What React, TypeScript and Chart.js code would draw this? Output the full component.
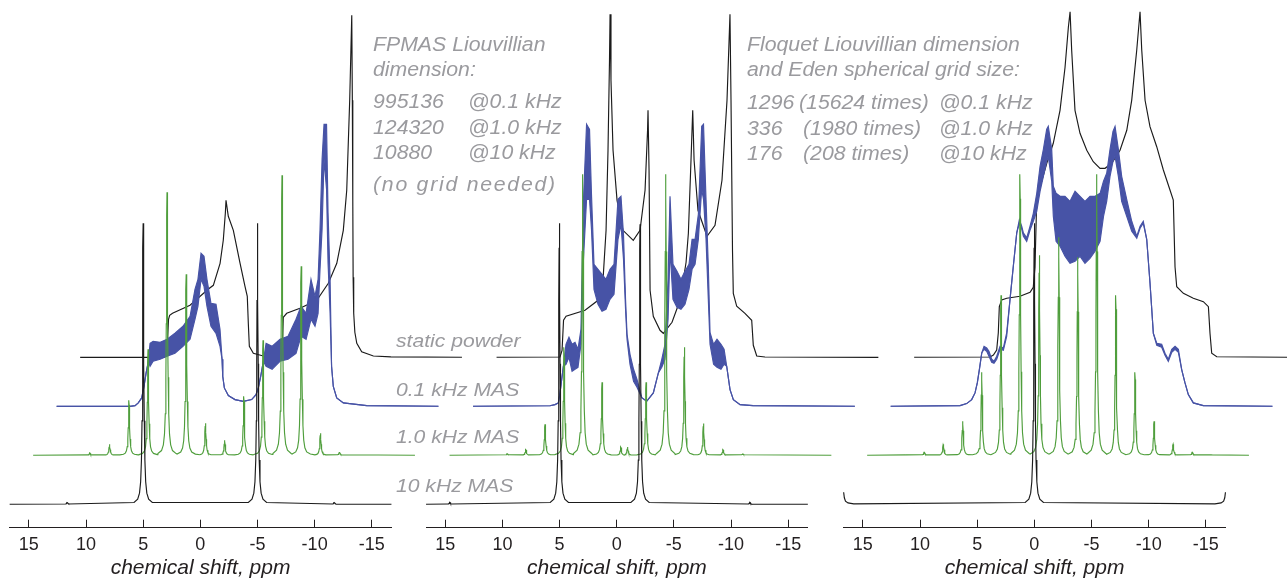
import React, { useEffect, useRef } from 'react';
import { Chart, registerables } from 'chart.js';

Chart.register(...registerables);

// ------------------------------------------------------------------ data
const TICK_VALUES = [15, 10, 5, 0, -5, -10, -15];
const AXIS_TITLE = 'chemical shift, ppm';
const TRACE_LABELS = ['static powder', '0.1 kHz MAS', '1.0 kHz MAS', '10 kHz MAS'];

const NOTE_FPMAS = [
  ['FPMAS Liouvillian'],
  ['dimension:'],
  ['995136', '@0.1 kHz'],
  ['124320', '@1.0 kHz'],
  ['10880', '@10 kHz'],
  ['(no grid needed)'],
];
const NOTE_FLOQUET = [
  ['Floquet Liouvillian dimension'],
  ['and Eden spherical grid size:'],
  ['1296', '(15624 times)', '@0.1 kHz'],
  ['336', '(1980 times)', '@1.0 kHz'],
  ['176', '(208 times)', '@10 kHz'],
];

// spectral window of every trace, ppm (left, right)
const WINDOW = [16.68, -16.72];

// Lorentzian profile of one sideband line: [offset ppm, relative intensity]
const LINE_PROFILE = [
  [0, 1], [0.02, 0.913], [0.04, 0.725], [0.065, 0.5], [0.1, 0.297],
  [0.15, 0.158], [0.22, 0.0803], [0.32, 0.0397], [0.48, 0.018], [0.8, 0.00656],
];

// ---- panel A : two sites at +5 / -5 ppm
const A_10K = [[11.64, 2], [5.0, 281], [-5.0, 281], [-11.72, 2]];
const A_1K = [
  [11.72, 2.3], [10.0, 11], [8.3, 55], [6.63, 106], [4.97, 263], [3.29, 181], [1.61, 32],
  [-0.07, 15], [-1.75, 59], [-3.43, 115], [-5.09, 280], [-6.77, 189], [-8.45, 22], [-10.12, 3.3],
];
// [ppm, upper envelope, lower envelope]
const A_01K = [
  [16.68, 0, 0], [10.26, 0, 0], [9.82, 0.7, 0.7], [9.54, 3.4, 3.4], [9.24, 8.4, 8.4], [9.04, 20, 20],
  [8.86, 33, 33], [8.66, 45, 45], [8.51, 63, 40], [8.24, 65, 45], [7.63, 64, 47], [7.02, 67, 50],
  [6.33, 73, 53], [5.63, 80, 60], [5.01, 90, 67], [4.58, 117, 87], [4.32, 127, 100], [4.05, 153, 127],
  [3.79, 150, 120], [3.53, 127, 100], [3.18, 103, 80], [2.74, 102, 73], [2.39, 77, 60], [2.21, 47, 47],
  [2.15, 30, 30], [2.01, 18.4, 18.4], [1.66, 10.7, 10.7], [1.08, 6.7, 6.7], [0.35, 5, 5],
  [-0.38, 6.7, 6.7], [-0.76, 11.7, 11.7], [-0.96, 18.4, 18.4], [-1.17, 30, 30], [-1.4, 45, 45],
  [-1.64, 63, 40], [-2.17, 60, 37], [-2.86, 67, 45], [-3.56, 70, 47], [-4.26, 87, 53], [-4.7, 100, 70],
  [-5.14, 93, 67], [-5.57, 127, 87], [-5.92, 110, 80], [-6.19, 127, 93], [-6.36, 177, 137],
  [-6.54, 247, 177], [-6.71, 282, 247], [-6.93, 282, 217], [-7.06, 194, 144], [-7.24, 127, 93],
  [-7.37, 40, 40], [-7.52, 20, 20], [-7.82, 8.4, 8.4], [-8.4, 3.4, 3.4], [-10.45, 0.7, 0.7], [-16.72, 0, 0],
];
const A_STATIC = [
  [16.68, 0], [9.3, 0], [9.12, 4], [9.02, 20], [8.95, 38], [8.85, 42], [8.6, 44], [7.07, 52], [5.49, 68],
  [5.03, 72], [4.44, 94], [4.16, 117], [3.98, 144], [3.92, 157], [3.72, 141], [3.28, 127], [2.69, 94],
  [2.26, 71], [2.06, 61], [1.97, 34], [1.88, 11], [1.53, 4], [0.66, 1.3], [-0.6, 0.5], [-0.92, 4],
  [-1.04, 20], [-1.09, 40], [-1.39, 44], [-2.55, 49], [-4.02, 57], [-5.03, 74], [-5.77, 94], [-6.34, 127],
  [-6.64, 167], [-6.9, 257], [-7.08, 342], [-7.13, 257], [-7.17, 157], [-7.2, 80], [-7.25, 44],
  [-7.35, 25], [-7.52, 14], [-7.95, 5.6], [-8.97, 1.3], [-10.5, 0.4], [-16.72, 0],
];

// ---- panel B : two sites at +5 / -2 ppm
const B_10K = [[14.6, 2], [5.02, 281], [-2.04, 280], [-11.65, 2]];
const B_1K = [
  [11.63, 1.7], [10.01, 5.7], [8.33, 31], [6.67, 108], [5.04, 281], [3.34, 73], [1.7, 8.3],
  [1.11, 8.3], [-0.51, 73], [-2.23, 281], [-3.86, 108], [-5.53, 31.7], [-7.24, 5.7], [-8.97, 1.7],
];
const B_01K = [
  [16.68, 0, 0], [9.95, 0.5, 0.5], [9.51, 1.7, 1.7], [9.22, 3.4, 3.4], [9.07, 13.7, 13.7], [8.78, 40, 40],
  [8.55, 62, 42], [8.29, 69, 49], [8.02, 62, 35], [7.76, 64, 37], [7.5, 57, 39], [7.24, 77, 62],
  [7.02, 207, 147], [6.75, 282, 207], [6.49, 277, 207], [6.32, 212, 177], [6.1, 142, 117],
  [5.75, 137, 102], [5.4, 132, 95], [5.05, 127, 97], [4.7, 137, 107], [4.35, 142, 112], [4.0, 207, 167],
  [3.74, 210, 182], [3.52, 172, 147], [3.34, 107, 97], [3.21, 72, 67], [2.95, 52, 42], [2.64, 37, 25],
  [2.34, 27, 19], [1.92, 8.7, 8.7], [1.49, 5, 5], [0.91, 13.4, 13.4], [0.47, 33.4, 33.4], [0.17, 47, 39],
  [-0.11, 62, 47], [-0.38, 127, 87], [-0.55, 210, 157], [-0.81, 142, 107], [-1.16, 135, 99],
  [-1.51, 127, 97], [-1.86, 135, 102], [-2.21, 142, 117], [-2.48, 167, 137], [-2.74, 167, 142],
  [-3.03, 192, 167], [-3.32, 280, 217], [-3.48, 282, 207], [-3.7, 207, 167], [-3.9, 140, 107],
  [-4.05, 74, 62], [-4.36, 62, 42], [-4.66, 67, 39], [-5.01, 62, 37], [-5.28, 57, 42], [-5.51, 40, 40],
  [-5.8, 16.7, 16.7], [-6.09, 6.7, 6.7], [-6.68, 1.7, 1.7], [-7.81, 0.7, 0.7], [-16.72, 0, 0],
];
const B_STATIC = [
  [16.68, 0], [11.13, 0.3], [10.95, 7], [10.82, 37], [10.6, 41], [8.94, 47], [7.8, 57], [7.37, 77],
  [7.1, 127], [6.93, 207], [6.8, 297], [6.75, 343], [6.67, 277], [6.49, 207], [6.14, 157], [5.62, 127],
  [4.72, 117], [4.13, 127], [3.69, 167], [3.47, 227], [3.43, 247], [3.34, 187], [3.25, 67], [2.97, 41],
  [2.38, 27], [2.09, 24], [1.33, 35], [0.63, 57], [0.1, 95], [-0.1, 124], [-0.33, 197], [-0.48, 247],
  [-0.6, 197], [-0.94, 147], [-1.73, 121], [-2.43, 132], [-3.04, 177], [-3.48, 257], [-3.74, 343],
  [-3.83, 257], [-3.96, 107], [-4.03, 64], [-4.33, 51], [-5.05, 44], [-5.64, 37], [-5.78, 12],
  [-6.08, 1.3], [-6.8, 0.3], [-16.72, 0],
];

// ---- panel C : one site at 0 ppm with large anisotropy
const C_10K = [[0, 281]];
const C_10K_ENDS = [
  [16.68, 12], [16.62, 6.5], [16.52, 3.2], [16.3, 1.4], [15.8, 0.5],
  [-15.8, 0.5], [-16.34, 1.4], [-16.56, 3.2], [-16.66, 6.5], [-16.72, 12],
];
const C_1K = [
  [13.31, 0.5], [11.68, 3.3], [10.02, 11], [8.32, 34], [6.66, 83], [4.97, 160], [3.31, 281], [1.62, 200],
  [-0.08, 218], [-1.74, 198], [-3.4, 281], [-5.07, 160], [-6.75, 83], [-8.42, 34], [-10.08, 11],
  [-11.77, 3.3], [-13.46, 0.5],
];
const C_01K = [
  [16.68, 0, 0], [10.61, 0.7, 0.7], [10.03, 2.7, 2.7], [9.59, 6.7, 6.7], [9.3, 13.4, 13.4], [9.1, 23.4, 23.4],
  [8.92, 36.7, 36.7], [8.71, 53.4, 53.4], [8.51, 60, 57], [8.28, 58.4, 55], [8.08, 55, 50], [7.84, 47, 44],
  [7.64, 45, 43], [7.4, 50, 47], [7.11, 60, 57], [6.82, 58.4, 56], [6.53, 73.4, 70], [6.24, 106.7, 106.7],
  [5.95, 140, 140], [5.65, 173.4, 173.4], [5.42, 186.7, 183], [5.21, 180, 177], [5.07, 173.4, 170],
  [4.78, 168.4, 165], [4.49, 180, 176], [4.2, 193, 185], [3.9, 213, 195], [3.61, 240, 215],
  [3.32, 257, 230], [3.03, 277, 245], [2.89, 280, 250], [2.59, 257, 225], [2.45, 220, 190],
  [2.21, 213, 165], [1.86, 210, 160], [1.43, 210, 150], [0.99, 205, 143], [0.55, 215, 145],
  [0.11, 210, 150], [-0.32, 205, 143], [-0.76, 210, 148], [-1.2, 210, 155], [-1.64, 213, 165],
  [-1.94, 225, 190], [-2.22, 233, 205], [-2.51, 257, 230], [-2.77, 275, 245], [-2.95, 280, 250],
  [-3.24, 257, 230], [-3.53, 230, 205], [-3.97, 207, 190], [-4.41, 185, 175], [-4.85, 170, 168],
  [-5.14, 180, 178], [-5.42, 185, 183], [-5.72, 167, 167], [-6.01, 123, 123], [-6.3, 73, 73],
  [-6.6, 63, 61], [-7.03, 62, 59], [-7.32, 53, 51], [-7.61, 47, 45], [-7.91, 57, 54], [-8.2, 60, 57],
  [-8.49, 57, 54], [-8.78, 36.7, 36.7], [-9.07, 23.4, 23.4], [-9.36, 11.7, 11.7], [-9.8, 3.4, 3.4],
  [-10.67, 0.7, 0.7], [-16.72, 0, 0],
];
const C_STATIC = [
  [16.68, 0], [10.04, 0.3], [9.75, 2.3], [9.46, 7.3], [9.32, 24.3], [9.23, 50.6], [9.02, 57.3],
  [8.58, 59], [7.42, 61], [6.54, 65], [6.26, 70], [6.11, 90], [5.96, 157], [5.67, 170], [5.08, 194],
  [4.51, 214], [3.92, 247], [3.48, 290], [3.19, 330], [3.04, 345.6], [2.9, 307], [2.61, 247],
  [2.17, 224], [1.58, 207], [1.01, 195.6], [0.42, 189], [-0.02, 189], [-0.6, 194], [-1.33, 207],
  [-1.92, 227], [-2.35, 257], [-2.79, 307], [-3.08, 345.6], [-3.23, 307], [-3.52, 257], [-3.95, 230.6],
  [-4.54, 210.6], [-5.12, 187.3], [-5.7, 167.3], [-5.99, 157.3], [-6.14, 90.6], [-6.29, 70.6],
  [-6.87, 64], [-7.74, 59], [-8.62, 55.6], [-9.06, 50.6], [-9.2, 24], [-9.35, 4], [-9.79, 0.6],
  [-16.72, 0],
];

const PANELS = [
  { k10: A_10K, ends10: null, k1: A_1K, k01: A_01K, stat: A_STATIC },
  { k10: B_10K, ends10: null, k1: B_1K, k01: B_01K, stat: B_STATIC },
  { k10: C_10K, ends10: C_10K_ENDS, k1: C_1K, k01: C_01K, stat: C_STATIC },
];

// ------------------------------------------------------------------ layout / style
const W = 1287;
const H = 583;
const FONT = '"Liberation Sans", Arial, Helvetica, sans-serif';
const INK = '#231f20';
const GRAY = '#9a9a9e';
const BLACK = '#1b1b1b';
const BLUE = '#4753a6';
const GREEN = '#4f9e3c';
const SHIFT_PPM = 2.056; // horizontal stagger of stacked traces
const STEP = 49; // vertical stagger of stacked traces
const AXIS_WIDTH = 381.8;
const PANEL_LEFT = [9.65, 426.05, 843.65];
const X_AXIS_HEIGHT = 55.3;

const NOTE_SIZE = 19.5;
const NOTE_STRETCH = 1.09;
const LABEL_SIZE = 18.7;
const LABEL_STRETCH = 1.13;
const FPMAS_BASE = [51.5, 76.5, 109, 134.5, 160, 191.5];
const FPMAS_COLS = [373, 468];
const FPMAS_SPACING = [0, 0, 0, 0, 0, 1.6];
const FLOQ_BASE = [51.5, 77, 109.5, 135.5, 161];
const FLOQ_COLS = [[746.5], [746.5], [746.5, 799, 939], [746.5, 803, 939], [746.5, 803, 939]];
const LABEL_X = 395.5;
const LABEL_BASE = [348.3, 396.7, 444.2, 492.7];

type P = { x: number; y: number };

function sticks(peaks: number[][], ends: number[][] | null): P[] {
  const pts: P[] = [];
  for (const [p, h] of peaks) {
    for (const [d, r] of LINE_PROFILE) {
      const v = h * r;
      if (d > 0 && v < 0.3) break;
      pts.push({ x: p + d, y: v });
      if (d > 0) pts.push({ x: p - d, y: v });
    }
  }
  const e = ends || [[WINDOW[0], 0], [WINDOW[1], 0]];
  for (const [p, h] of e) pts.push({ x: p, y: h });
  return pts
    .filter((q) => q.x <= WINDOW[0] + 1e-9 && q.x >= WINDOW[1] - 1e-9)
    .sort((a, b) => b.x - a.x);
}

function place(pts: P[], k: number): P[] {
  return pts.map((q) => ({ x: q.x - k * SHIFT_PPM, y: q.y + k * STEP }));
}

function lineDs(data: P[], color: string, extra: any = {}) {
  return {
    data,
    borderColor: color,
    backgroundColor: color,
    borderWidth: 1.15,
    pointRadius: 0,
    tension: 0,
    fill: false,
    clip: false,
    ...extra,
  };
}

function makeConfig(pan: any, i: number): any {
  const left = PANEL_LEFT[i];
  const datasets = [
    lineDs(place(sticks(pan.k10, pan.ends10), 0), BLACK),
    lineDs(place(sticks(pan.k1, null), 1), GREEN),
    lineDs(place(pan.k01.map((r: number[]) => ({ x: r[0], y: r[2] })), 2), BLUE),
    lineDs(place(pan.k01.map((r: number[]) => ({ x: r[0], y: r[1] })), 2), BLUE, { fill: '-1' }),
    lineDs(place(pan.stat.map((r: number[]) => ({ x: r[0], y: r[1] })), 3), BLACK),
  ];
  return {
    type: 'line',
    data: { datasets },
    options: {
      responsive: false,
      animation: false,
      devicePixelRatio: 1,
      events: [],
      layout: { padding: { left, right: W - left - AXIS_WIDTH, top: 0, bottom: 0 } },
      plugins: { legend: { display: false }, tooltip: { enabled: false } },
      scales: {
        x: {
          type: 'linear',
          min: WINDOW[1],
          max: WINDOW[0],
          reverse: true,
          afterBuildTicks: (axis: any) => {
            axis.ticks = TICK_VALUES.map((v) => ({ value: v }));
          },
          afterFit: (axis: any) => {
            axis.height = X_AXIS_HEIGHT;
          },
          ticks: {
            autoSkip: false,
            maxRotation: 0,
            padding: 15,
            color: INK,
            font: { family: FONT, size: 18 },
            callback: (v: any) => String(v),
          },
          grid: {
            display: true,
            drawOnChartArea: false,
            drawTicks: true,
            tickLength: -8,
            color: INK,
            lineWidth: 1,
          },
          border: { display: true, color: INK, width: 1 },
          title: {
            display: true,
            text: AXIS_TITLE,
            color: INK,
            font: { family: FONT, size: 21, style: 'italic' },
            padding: { top: 0, bottom: 2.7 },
          },
        },
        y: { display: false, min: -23.4, max: 504.3 },
      },
    },
  };
}

function Txt({ x, base, size, stretch, spacing = 0, children }: any) {
  return (
    <div
      style={{
        position: 'absolute',
        left: x,
        top: base - 0.8465 * size,
        fontFamily: FONT,
        fontStyle: 'italic',
        fontSize: size,
        lineHeight: 1,
        letterSpacing: spacing,
        color: GRAY,
        whiteSpace: 'nowrap',
        transform: `scaleX(${stretch})`,
        transformOrigin: 'left top',
      }}
    >
      {children}
    </div>
  );
}

export default function App() {
  const r0 = useRef<HTMLCanvasElement>(null);
  const r1 = useRef<HTMLCanvasElement>(null);
  const r2 = useRef<HTMLCanvasElement>(null);
  const refs = [r0, r1, r2];

  useEffect(() => {
    const charts = PANELS.map((pan, i) => new Chart(refs[i].current as HTMLCanvasElement, makeConfig(pan, i)));
    return () => charts.forEach((c) => c.destroy());
  }, []);

  const texts: any[] = [];
  NOTE_FPMAS.forEach((row, ri) =>
    row.forEach((t, ci) =>
      texts.push(
        <Txt key={`f${ri}-${ci}`} x={FPMAS_COLS[ci]} base={FPMAS_BASE[ri]} size={NOTE_SIZE}
          stretch={NOTE_STRETCH} spacing={FPMAS_SPACING[ri]}>
          {t}
        </Txt>
      )
    )
  );
  NOTE_FLOQUET.forEach((row, ri) =>
    row.forEach((t, ci) =>
      texts.push(
        <Txt key={`q${ri}-${ci}`} x={FLOQ_COLS[ri][ci]} base={FLOQ_BASE[ri]} size={NOTE_SIZE} stretch={NOTE_STRETCH}>
          {t}
        </Txt>
      )
    )
  );
  TRACE_LABELS.forEach((t, i) =>
    texts.push(
      <Txt key={`l${i}`} x={LABEL_X} base={LABEL_BASE[i]} size={LABEL_SIZE} stretch={LABEL_STRETCH}>
        {t}
      </Txt>
    )
  );

  return (
    <div style={{ position: 'absolute', left: 0, top: 0, width: W, height: H, overflow: 'hidden', background: '#fff' }}>
      {refs.map((r, i) => (
        <canvas key={i} ref={r} width={W} height={H} style={{ position: 'absolute', left: 0, top: 0 }} />
      ))}
      {texts}
    </div>
  );
}
